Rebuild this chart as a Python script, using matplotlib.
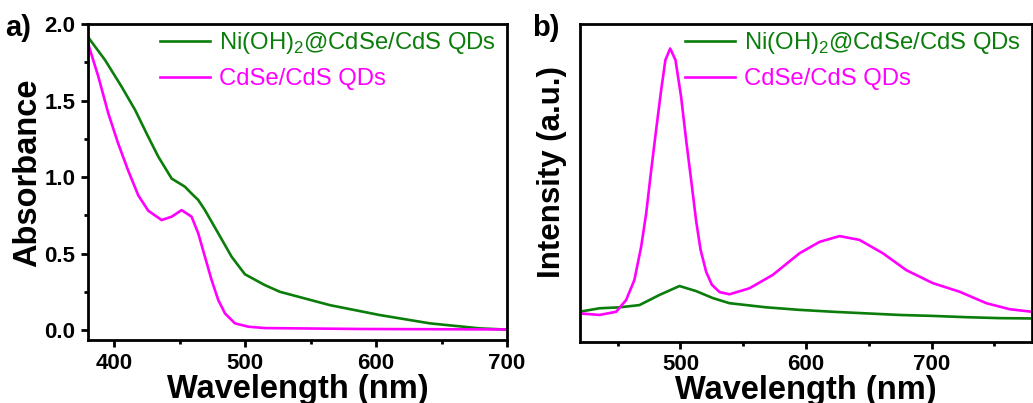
import numpy as np
import matplotlib
matplotlib.use('Agg')
import matplotlib.pyplot as plt
from matplotlib.ticker import MultipleLocator

# a) absorbance data
abs_wl_ni = [380, 393, 405.7, 416, 426, 433.7, 443.9, 454, 459, 464.2, 469.3, 479.5, 489.7,
             499.8, 515, 526.6, 564.7, 602.9, 641, 679.2, 700]
abs_ni = [1.915, 1.765, 1.59, 1.438, 1.263, 1.133, 0.99, 0.937, 0.893, 0.85, 0.784, 0.632, 0.479,
          0.365, 0.294, 0.25, 0.163, 0.098, 0.044, 0.011, 0.003]
abs_wl_qd = [380, 387.9, 395.5, 403, 410.8, 418.4, 426, 436.2, 443.9, 451.5, 459.1, 464.2, 469.3,
             474.4, 479.5, 484.6, 492.2, 502.4, 515, 590, 700]
abs_qd = [1.874, 1.656, 1.416, 1.22, 1.04, 0.88, 0.78, 0.719, 0.741, 0.784, 0.741, 0.632, 0.479,
          0.327, 0.196, 0.109, 0.044, 0.022, 0.013, 0.007, 0.004]

# b) PL data (arbitrary units)
pl_wl_qd = [419.5, 435.5, 448.8, 456.7, 463.3, 468.7, 472.7, 476.7, 480.6, 484.6, 488, 491.8,
            496, 500.5, 504.5, 508.5, 512.5, 516, 520.5, 525, 531.1, 539, 555, 573.5, 594.8,
            610.8, 626.7, 642.6, 661.2, 679.8, 701, 722.3, 743.6, 762.2, 780]
pl_qd = [0.09, 0.085, 0.095, 0.132, 0.195, 0.3, 0.405, 0.541, 0.667, 0.792, 0.887, 0.923,
         0.887, 0.771, 0.635, 0.509, 0.38, 0.29, 0.22, 0.18, 0.157, 0.15, 0.169, 0.211, 0.279,
         0.315, 0.333, 0.321, 0.279, 0.226, 0.185, 0.158, 0.122, 0.103, 0.095]
pl_wl_ni = [419.5, 435.5, 451.4, 467.3, 483.3, 499.2, 512.5, 525.8, 539, 568.3, 594.8, 621.4,
            648, 674.5, 701, 727.6, 754.2, 780]
pl_ni = [0.095, 0.106, 0.109, 0.116, 0.148, 0.176, 0.16, 0.138, 0.122, 0.109, 0.101, 0.095,
         0.09, 0.085, 0.082, 0.078, 0.075, 0.074]

labels = ['Ni(OH)$_2$@CdSe/CdS QDs', 'CdSe/CdS QDs']
c_ni = '#0a7d0a'
c_qd = '#ff00ff'

plt.rcParams['font.family'] = ['Liberation Sans', 'DejaVu Sans']
plt.rcParams['mathtext.fontset'] = 'custom'
plt.rcParams['mathtext.rm'] = 'Liberation Sans'
plt.rcParams['xtick.direction'] = 'out'
plt.rcParams['ytick.direction'] = 'out'

fig = plt.figure(figsize=(10.33, 4.03), dpi=100)
ax1 = fig.add_axes([0.0852, 0.1563, 0.4056, 0.784])
ax2 = fig.add_axes([0.5615, 0.1514, 0.4376, 0.789])

lw = 1.9
ax1.plot(abs_wl_ni, abs_ni, color=c_ni, lw=lw, label=labels[0])
ax1.plot(abs_wl_qd, abs_qd, color=c_qd, lw=lw, label=labels[1])
ax2.plot(pl_wl_ni, pl_ni, color=c_ni, lw=lw, label=labels[0])
ax2.plot(pl_wl_qd, pl_qd, color=c_qd, lw=lw, label=labels[1])

ax1.set_xlim(380, 700)
ax1.set_ylim(-0.065, 2.0)
ax1.xaxis.set_major_locator(MultipleLocator(100))
ax1.xaxis.set_minor_locator(MultipleLocator(50))
ax1.yaxis.set_major_locator(MultipleLocator(0.5))
ax1.yaxis.set_minor_locator(MultipleLocator(0.25))
ax1.set_ylabel('Absorbance', fontsize=23.5, fontweight='bold')
ax1.yaxis.set_label_coords(-0.108, 0.53)

ax2.set_xlim(420, 780)
ax2.set_ylim(0, 1)
ax2.xaxis.set_major_locator(MultipleLocator(100))
ax2.xaxis.set_minor_locator(MultipleLocator(50))
ax2.set_yticks([])
ax2.set_ylabel('Intensity (a.u.)', fontsize=22.5, fontweight='bold')
ax2.yaxis.set_label_coords(-0.028, 0.535)

for ax in (ax1, ax2):
    ax.set_xlabel('Wavelength (nm)', fontsize=23.5, fontweight='bold', labelpad=0)
    for s in ax.spines.values():
        s.set_linewidth(2)
    ax.tick_params(which='major', length=5, width=2, labelsize=16, pad=4)
    ax.tick_params(which='minor', length=3, width=2)
    for t in ax.get_xticklabels() + ax.get_yticklabels():
        t.set_fontweight('bold')
    leg = ax.legend(loc='upper right', frameon=False, fontsize=17.2, handlelength=2.1,
                    handletextpad=0.4, borderaxespad=0.05, labelspacing=0.5,
                    bbox_to_anchor=(1.0, 1.015))
    for txt, line in zip(leg.get_texts(), leg.get_lines()):
        txt.set_color(line.get_color())

fig.text(0.005, 0.93, 'a)', fontsize=21, fontweight='bold', va='center')
fig.text(0.515, 0.93, 'b)', fontsize=21, fontweight='bold', va='center')

fig.savefig('out.png', dpi=100)
